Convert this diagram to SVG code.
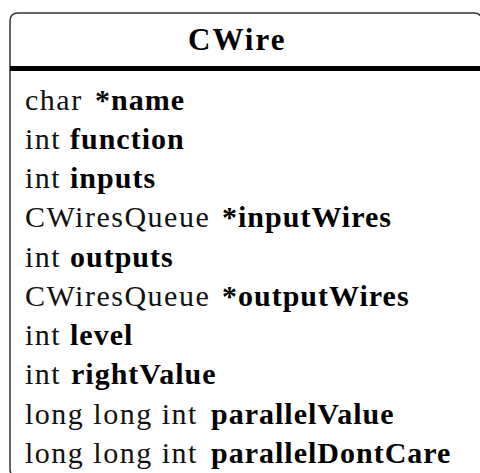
<svg xmlns="http://www.w3.org/2000/svg" width="480" height="473" viewBox="0 0 480 473">
<rect width="480" height="473" fill="#fff"/>
<g id="CWire">
<path d="M 18 477 Q 10 477 10 469 L 10 21 Q 10 13 18 13 L 474 13 Q 482 13 482 21 L 482 477" fill="#fff" stroke="#333" stroke-width="1.5"/>
<rect x="10" y="66" width="472" height="5" fill="#000"/>
<text x="188" y="50" font-size="31" font-weight="bold" letter-spacing="2" style="font-family:'Liberation Serif','Times New Roman',serif">CWire</text>
<text x="25" y="110" font-size="30" fill="#111" letter-spacing="1.5" style="font-family:'Liberation Serif','Times New Roman',serif">char</text>
<text x="95" y="110" font-size="30" font-weight="bold" letter-spacing="1" style="font-family:'Liberation Serif','Times New Roman',serif">*name</text>
<text x="25" y="149" font-size="30" fill="#111" letter-spacing="1.5" style="font-family:'Liberation Serif','Times New Roman',serif">int</text>
<text x="70" y="149" font-size="30" font-weight="bold" letter-spacing="1" style="font-family:'Liberation Serif','Times New Roman',serif">function</text>
<text x="25" y="188" font-size="30" fill="#111" letter-spacing="1.5" style="font-family:'Liberation Serif','Times New Roman',serif">int</text>
<text x="70" y="188" font-size="30" font-weight="bold" letter-spacing="1" style="font-family:'Liberation Serif','Times New Roman',serif">inputs</text>
<text x="25" y="227" font-size="30" fill="#111" letter-spacing="1.5" style="font-family:'Liberation Serif','Times New Roman',serif">CWiresQueue</text>
<text x="222" y="227" font-size="30" font-weight="bold" letter-spacing="1" style="font-family:'Liberation Serif','Times New Roman',serif">*inputWires</text>
<text x="25" y="267" font-size="30" fill="#111" letter-spacing="1.5" style="font-family:'Liberation Serif','Times New Roman',serif">int</text>
<text x="70" y="267" font-size="30" font-weight="bold" letter-spacing="1" style="font-family:'Liberation Serif','Times New Roman',serif">outputs</text>
<text x="25" y="306" font-size="30" fill="#111" letter-spacing="1.5" style="font-family:'Liberation Serif','Times New Roman',serif">CWiresQueue</text>
<text x="222" y="306" font-size="30" font-weight="bold" letter-spacing="1" style="font-family:'Liberation Serif','Times New Roman',serif">*outputWires</text>
<text x="25" y="345" font-size="30" fill="#111" letter-spacing="1.5" style="font-family:'Liberation Serif','Times New Roman',serif">int</text>
<text x="70" y="345" font-size="30" font-weight="bold" letter-spacing="1" style="font-family:'Liberation Serif','Times New Roman',serif">level</text>
<text x="25" y="384" font-size="30" fill="#111" letter-spacing="1.5" style="font-family:'Liberation Serif','Times New Roman',serif">int</text>
<text x="71" y="384" font-size="30" font-weight="bold" letter-spacing="1" style="font-family:'Liberation Serif','Times New Roman',serif">rightValue</text>
<text x="25" y="424" font-size="30" fill="#111" letter-spacing="1.5" style="font-family:'Liberation Serif','Times New Roman',serif">long long int</text>
<text x="211" y="424" font-size="30" font-weight="bold" letter-spacing="1" style="font-family:'Liberation Serif','Times New Roman',serif">parallelValue</text>
<text x="25" y="463" font-size="30" fill="#111" letter-spacing="1.5" style="font-family:'Liberation Serif','Times New Roman',serif">long long int</text>
<text x="211" y="463" font-size="30" font-weight="bold" letter-spacing="1" style="font-family:'Liberation Serif','Times New Roman',serif">parallelDontCare</text>
</g>
</svg>
